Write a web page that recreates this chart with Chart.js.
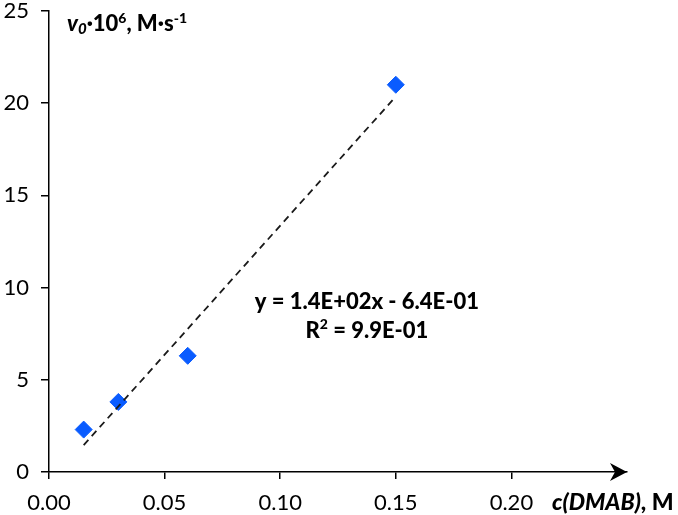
<!DOCTYPE html>
<html>
<head>
<meta charset="utf-8">
<script src="https://cdn.jsdelivr.net/npm/chart.js@4.4.1/dist/chart.umd.min.js"></script>
<style>
  html, body { margin: 0; padding: 0; background: #fff; }
  #wrap { width: 678px; height: 515px; position: relative; }
</style>
</head>
<body>
<div id="wrap"><canvas id="myChart"></canvas></div>
<script>
// concentration of DMAB, M
var concDMAB = [0.015, 0.03, 0.06, 0.15];
// initial rate v0*10^6, M/s
var rateV0 = [2.3, 3.8, 6.3, 21.0];
// linear trend end points (y = 1.4E+02x - 6.4E-01)
var trendX = [0.015, 0.15];
var trendY = [1.46, 20.36];
var xTicks = [0, 0.05, 0.10, 0.15, 0.20];
var yTicks = [0, 5, 10, 15, 20, 25];

var FONT = 'Lato, "Liberation Sans", sans-serif';

// draws runs of text: [text, style, sizeFactor, yOffset]
function drawRuns(ctx, runs, x, y, size, align) {
  var total = 0;
  runs.forEach(function (r) {
    ctx.font = r[1] + ' ' + Math.round(size * r[2]) + 'px ' + FONT;
    r.w = ctx.measureText(r[0]).width;
    total += r.w;
  });
  var cx = align === 'center' ? x - total / 2 : x;
  runs.forEach(function (r) {
    ctx.font = r[1] + ' ' + Math.round(size * r[2]) + 'px ' + FONT;
    ctx.fillText(r[0], cx, y + r[3]);
    cx += r.w;
  });
}

var extras = {
  id: 'extras',
  afterDraw: function (chart) {
    var ctx = chart.ctx, a = chart.chartArea;
    var xs = chart.scales.x, ys = chart.scales.y;
    ctx.save();
    ctx.fillStyle = '#000';
    // arrow on x axis
    ctx.beginPath();
    ctx.moveTo(a.right, a.bottom);
    ctx.lineTo(a.right - 17, a.bottom - 9);
    ctx.lineTo(a.right - 12, a.bottom);
    ctx.lineTo(a.right - 17, a.bottom + 9);
    ctx.closePath();
    ctx.fill();

    ctx.textBaseline = 'middle';
    ctx.textAlign = 'left';
    // y axis title
    drawRuns(ctx, [
      ['v', 'italic 900', 1, 0],
      ['0', 'italic 900', 0.7, 5],
      ['\u00b710', '900', 1, 0],
      ['6', '900', 0.65, -6],
      [', M\u00b7s', '900', 1, 0],
      ['-1', '900', 0.65, -6]
    ], a.left + 18, 24, 22, 'left');
    // x axis title
    drawRuns(ctx, [
      ['c(DMAB)', 'italic 900', 1, 0],
      [', M', '900', 1, 0]
    ], 552, 503, 23, 'left');
    // trend equation
    var ex = xs.getPixelForValue(0.1375);
    drawRuns(ctx, [['y = 1.4E+02x - 6.4E-01', '900', 1, 0]], ex, ys.getPixelForValue(9.2), 21.5, 'center');
    drawRuns(ctx, [
      ['R', '900', 1, 0],
      ['2', '900', 0.65, -6],
      [' = 9.9E-01', '900', 1, 0]
    ], ex, ys.getPixelForValue(7.66), 21.5, 'center');
    ctx.restore();
  }
};

var ctx = document.getElementById('myChart');
var myChart = new Chart(ctx, {
  type: 'scatter',
  data: {
    datasets: [{
      type: 'line',
      label: 'trend',
      data: trendX.map(function (x, i) { return { x: x, y: trendY[i] }; }),
      borderColor: '#1a1a1a',
      borderWidth: 1.8,
      borderDash: [7, 5],
      pointRadius: 0,
      fill: false
    }, {
      label: 'v0',
      data: concDMAB.map(function (x, i) { return { x: x, y: rateV0[i] }; }),
      pointStyle: 'rectRot',
      pointRadius: 8.5,
      pointHoverRadius: 8.5,
      backgroundColor: '#0a5cff',
      borderColor: '#0a5cff',
      borderWidth: 1
    }]
  },
  options: {
    responsive: true,
    maintainAspectRatio: false,
    animation: false,
    layout: { padding: { top: 11, right: 51, left: 0, bottom: 0 } },
    plugins: { legend: { display: false }, tooltip: { enabled: false } },
    scales: {
      x: {
        type: 'linear',
        min: 0,
        max: 0.25,
        afterBuildTicks: function (s) { s.ticks = xTicks.map(function (v) { return { value: v }; }); },
        afterFit: function (s) { s.height = 43; },
        border: { color: '#000', width: 1.5 },
        grid: { drawOnChartArea: false, tickLength: 7, color: '#000', lineWidth: 1.5 },
        ticks: {
          color: '#000',
          padding: 11,
          maxRotation: 0,
          autoSkip: false,
          font: { family: FONT, size: 22 },
          callback: function (v) { return v.toFixed(2); }
        }
      },
      y: {
        min: 0,
        max: 25,
        afterBuildTicks: function (s) { s.ticks = yTicks.map(function (v) { return { value: v }; }); },
        afterFit: function (s) { s.width = 49; s.paddingTop = 0; s.paddingBottom = 0; },
        border: { color: '#000', width: 1.5 },
        grid: { drawOnChartArea: false, tickLength: 8, color: '#000', lineWidth: 1.5 },
        ticks: {
          color: '#000',
          padding: 12,
          font: { family: FONT, size: 22 }
        }
      }
    }
  },
  plugins: [extras]
});
</script>
</body>
</html>
